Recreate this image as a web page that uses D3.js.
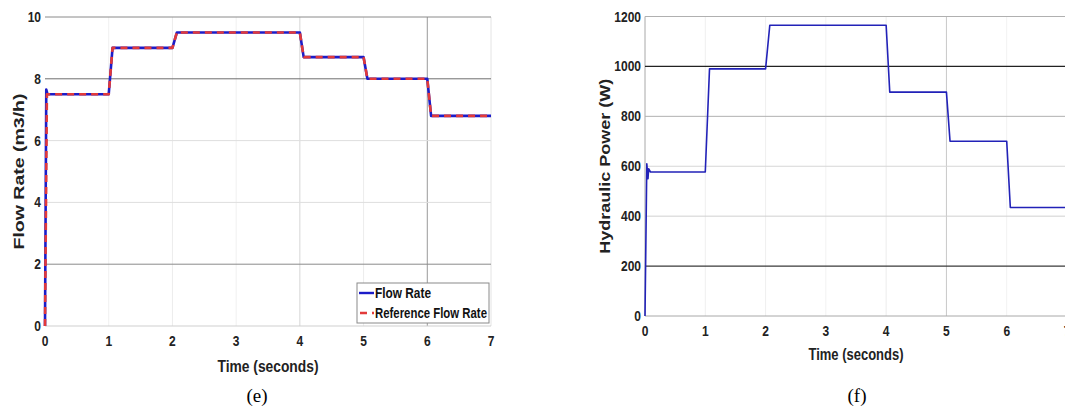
<!DOCTYPE html>
<html>
<head>
<meta charset="utf-8">
<script src="https://cdn.jsdelivr.net/npm/d3@7"></script>
<style>
  html, body { margin: 0; padding: 0; background: #fff; }
  svg { display: block; }
  .tick-lbl { font-family: "Liberation Sans", Arial, sans-serif; font-weight: bold; font-size: 15px; fill: #222; }
  .ax-lbl { font-family: "Liberation Sans", Arial, sans-serif; font-weight: bold; font-size: 16.5px; fill: #222; }
  .ylab { font-family: "Liberation Sans", Arial, sans-serif; font-weight: bold; font-size: 15px; fill: #222; }
  .cap { font-family: "Liberation Serif", "Times New Roman", serif; font-size: 19px; fill: #000; }
  .leg { font-family: "Liberation Sans", Arial, sans-serif; font-weight: bold; font-size: 14px; fill: #111; }
</style>
</head>
<body>
<script>
// ---- data ----
const xTicks = [0, 1, 2, 3, 4, 5, 6, 7];

// (e) flow rate, m3/h
const flowTicks = [0, 2, 4, 6, 8, 10];
const flowTime = [0, 0.02, 0.04, 0.07, 1.0, 1.06, 2.0, 2.07, 4.0, 4.06, 5.0, 5.06, 6.0, 6.06, 7.0];
const flowRate = [0, 7.65, 7.5, 7.5, 7.5, 9.0, 9.0, 9.5, 9.5, 8.7, 8.7, 8.0, 8.0, 6.8, 6.8];
const refTime = [0, 0.03, 1.0, 1.06, 2.0, 2.07, 4.0, 4.06, 5.0, 5.06, 6.0, 6.06, 7.0];
const refRate = [0, 7.5, 7.5, 9.0, 9.0, 9.5, 9.5, 8.7, 8.7, 8.0, 8.0, 6.8, 6.8];

// (f) hydraulic power, W
const powerTicks = [0, 200, 400, 600, 800, 1000, 1200];
const powerTime = [0, 0.03, 0.05, 0.06, 0.09, 1.0, 1.07, 2.0, 2.07, 4.0, 4.06, 5.0, 5.06, 6.0, 6.06, 7.0];
const power = [0, 610, 550, 590, 577, 577, 990, 990, 1165, 1165, 897, 897, 700, 700, 435, 435];

const W = 1065, H = 407;
const svg = d3.select("body").append("svg").attr("width", W).attr("height", H);

// grid shading as exported (some lines came out darker than others)
const flowGridY = { 0: "#cfcfcf", 2: "#8a8a8a", 4: "#dedede", 6: "#dedede", 8: "#6e6e6e", 10: "#8a8a8a" };
const flowGridX = { 0: "none", 1: "#f0f0f0", 2: "#ececec", 3: "#f0f0f0", 4: "#d6d6d6", 5: "#ececec", 6: "#9a9a9a", 7: "#e4e4e4" };
const powerGridY = { 0: "#a8a8a8", 200: "#3a3a3a", 400: "#d0d0d0", 600: "#d6d6d6", 800: "#b0b0b0", 1000: "#222", 1200: "#b0b0b0" };
const powerGridX = { 0: "#a8a8a8", 1: "#efefef", 2: "#efefef", 3: "#f2f2f2", 4: "#ececec", 5: "#c8c8c8", 6: "#f2f2f2", 7: "none" };

// squeeze a text horizontally (the source uses a narrow face)
function narrow(sel, factor) {
  sel.each(function () {
    const len = this.getComputedTextLength();
    d3.select(this).attr("textLength", len * factor).attr("lengthAdjust", "spacingAndGlyphs");
  });
}

function panel(o) {
  const x = d3.scaleLinear().domain([0, 7]).range([o.x0, o.x1]);
  const y = d3.scaleLinear().domain(o.yDomain).range([o.y0, o.y1]);
  const g = svg.append("g");

  // vertical grid
  g.selectAll("line.gx").data(xTicks).join("line")
    .attr("x1", d => x(d)).attr("x2", d => x(d))
    .attr("y1", o.y0).attr("y2", o.y1)
    .attr("stroke", d => o.gridX[d]).attr("stroke-width", 1);
  // horizontal grid
  g.selectAll("line.gy").data(o.yTicks).join("line")
    .attr("x1", o.x0).attr("x2", o.x1)
    .attr("y1", d => y(d)).attr("y2", d => y(d))
    .attr("stroke", d => o.gridY[d]).attr("stroke-width", d => (o.gridY[d] === "#222" || o.gridY[d] === "#3a3a3a") ? 1.3 : 1);

  // x tick labels
  g.selectAll("text.xt").data(xTicks).join("text").attr("class", "tick-lbl")
    .attr("x", d => x(d)).attr("y", o.y0 + 20).attr("text-anchor", "middle").text(d => d)
    .call(narrow, 0.8);
  // y tick labels
  g.selectAll("text.yt").data(o.yTicks).join("text").attr("class", "tick-lbl")
    .attr("x", o.x0 - 4).attr("y", d => y(d) + 5).attr("text-anchor", "end").text(d => d)
    .call(narrow, 0.8);

  g.append("text").attr("class", "ax-lbl").attr("x", o.xlabX).attr("y", o.xlabY)
    .attr("text-anchor", "middle").text("Time (seconds)")
    .attr("textLength", o.xlabW).attr("lengthAdjust", "spacingAndGlyphs");
  g.append("text").attr("class", "ylab")
    .attr("transform", `translate(${o.ylabX},${(o.y0 + o.y1) / 2}) rotate(-90)`)
    .attr("text-anchor", "middle").text(o.ylab)
    .attr("textLength", o.ylabW).attr("lengthAdjust", "spacingAndGlyphs");
  g.append("text").attr("class", "cap").attr("x", o.capX).attr("y", 402)
    .attr("text-anchor", "middle").text(o.cap);

  const line = d3.line().x(d => x(d[0])).y(d => y(d[1]));
  o.series.forEach(s => {
    g.append("path").attr("d", line(d3.zip(s.t, s.v)))
      .attr("fill", "none").attr("stroke", s.color).attr("stroke-width", s.width)
      .attr("stroke-dasharray", s.dash || null).attr("stroke-linejoin", "round");
  });
  return { g, x, y };
}

const left = panel({
  x0: 45, x1: 491, y0: 326, y1: 17, yDomain: [0, 10], yTicks: flowTicks,
  gridX: flowGridX, gridY: flowGridY,
  xlabX: 268, xlabY: 372, xlabW: 101, ylabX: 24, ylabW: 156, ylab: "Flow Rate (m3/h)", capX: 257, cap: "(e)",
  series: [
    { t: flowTime, v: flowRate, color: "#1c1cc8", width: 2.6 },
    { t: refTime, v: refRate, color: "#e23a3a", width: 2.6, dash: "7,5" }
  ]
});

const right = panel({
  x0: 645, x1: 1067, y0: 316, y1: 16.5, yDomain: [0, 1200], yTicks: powerTicks,
  gridX: powerGridX, gridY: powerGridY,
  xlabX: 856, xlabY: 360, xlabW: 95, ylabX: 610, ylabW: 175, ylab: "Hydraulic Power (W)", capX: 857, cap: "(f)",
  series: [
    { t: powerTime, v: power, color: "#2222b8", width: 1.6 }
  ]
});

// legend for (e)
const leg = left.g.append("g");
leg.append("rect").attr("x", 357).attr("y", 283).attr("width", 132).attr("height", 40)
  .attr("fill", "#fff").attr("stroke", "#8a8a8a").attr("stroke-width", 1);
leg.append("line").attr("x1", 359).attr("x2", 374).attr("y1", 293).attr("y2", 293)
  .attr("stroke", "#1c1cc8").attr("stroke-width", 2.4);
leg.append("text").attr("class", "leg").attr("x", 375).attr("y", 298).text("Flow Rate")
  .attr("textLength", 56).attr("lengthAdjust", "spacingAndGlyphs");
leg.append("line").attr("x1", 360).attr("x2", 374).attr("y1", 313).attr("y2", 313)
  .attr("stroke", "#e23a3a").attr("stroke-width", 2.6).attr("stroke-dasharray", "7,5");
leg.append("text").attr("class", "leg").attr("x", 375).attr("y", 318).text("Reference Flow Rate")
  .attr("textLength", 112).attr("lengthAdjust", "spacingAndGlyphs");
</script>
</body>
</html>
